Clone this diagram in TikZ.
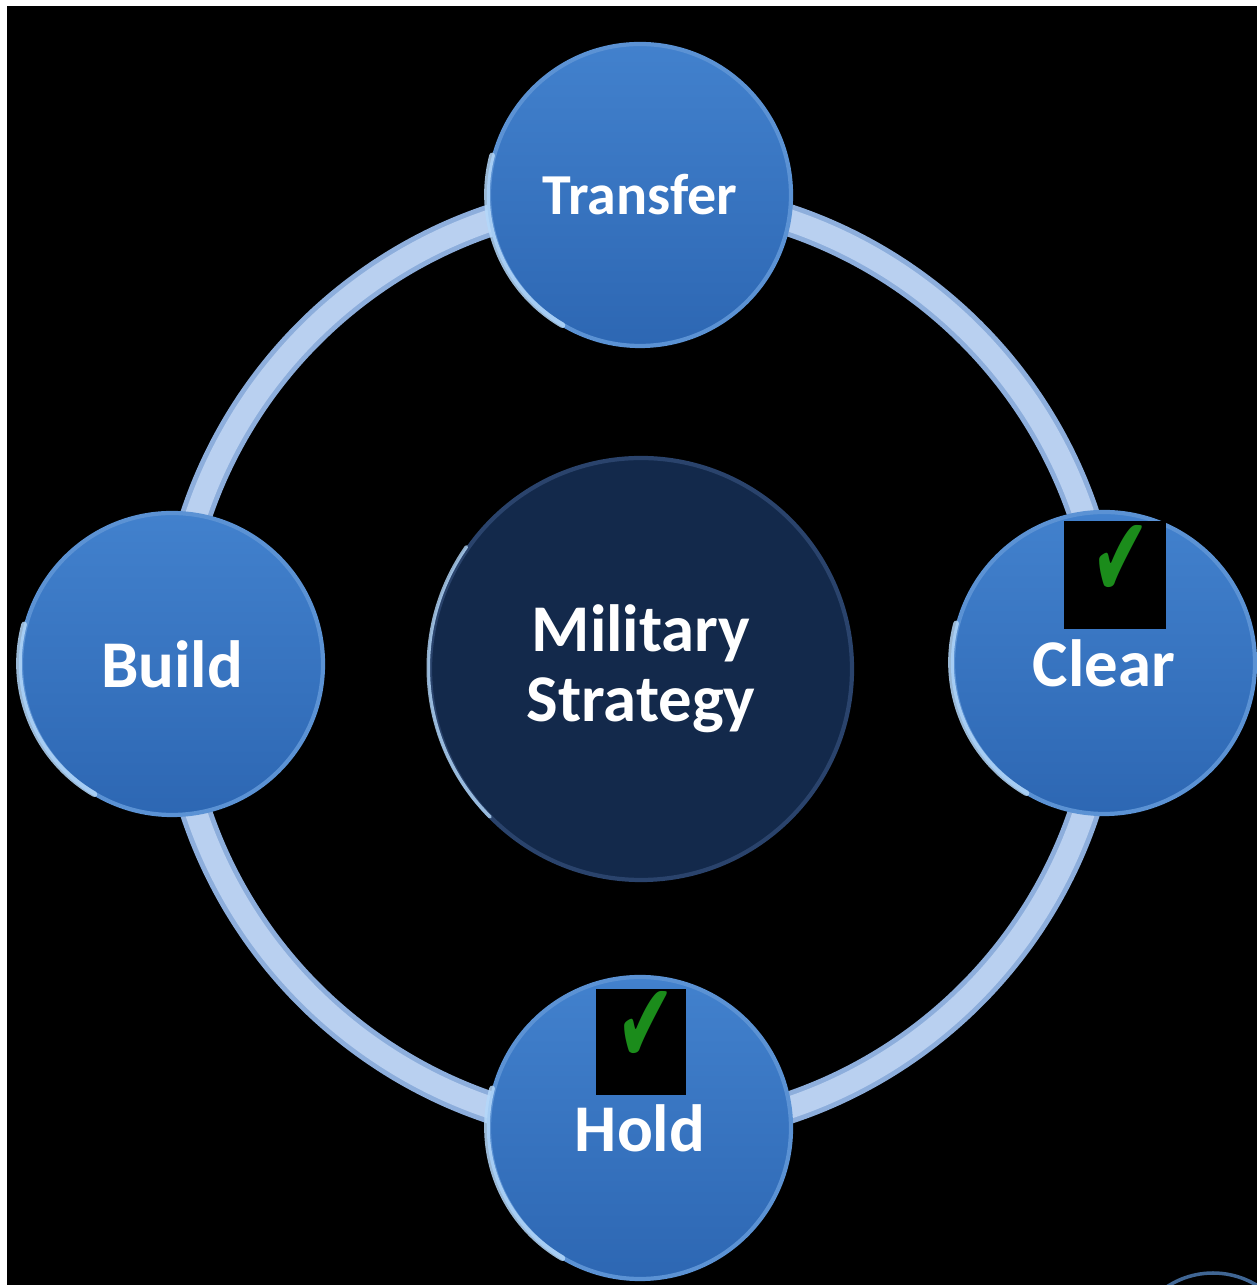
\documentclass[tikz,border=0pt]{standalone}
\usepackage{fontspec}
\setmainfont{Carlito}
\newfontfamily\marksfont{DejaVu Sans}
\usepackage{tikz}

\definecolor{stagetop}{HTML}{4281CD}
\definecolor{stagebot}{HTML}{2D67B3}
\definecolor{stagerim}{HTML}{5B92D4}
\definecolor{glint}{HTML}{B4D8FA}
\definecolor{hubfill}{HTML}{13294B}
\definecolor{hubrim}{HTML}{2A436C}
\definecolor{ringedge}{HTML}{8DAEDC}
\definecolor{ringmid}{HTML}{B9D0F0}
\definecolor{tickgreen}{HTML}{1B8C1B}

\newcommand{\okmark}{\scalebox{0.8}[1.3]{✔}}

\tikzset{
  stage/.style={circle, minimum size=3.02cm, inner sep=0pt,
    top color=stagetop, bottom color=stagebot, draw=stagerim, line width=1.2pt,
    text=white, font=\bfseries\fontsize{19}{20}\selectfont},
  hub/.style={circle, minimum size=4.22cm, inner sep=0pt,
    fill=hubfill, draw=hubrim, line width=1.2pt, align=center,
    text=white, font=\bfseries\fontsize{19}{19.9}\selectfont},
  shine/.style={glint, line width=1.6pt, line cap=round, opacity=0.85},
  tickbox/.style={fill=black, inner sep=0pt},
  tickmark/.style={text=tickgreen, inner sep=0pt, font=\marksfont\fontsize{25}{25}\selectfont}
}

\begin{document}
\begin{tikzpicture}
  \useasboundingbox (0,0) rectangle (12.57,12.85);
  \fill[white] (0,0) rectangle (12.57,12.85);
  \fill[black] (0.07,0) rectangle (12.57,12.79);
  \clip (0.07,0) rectangle (12.57,12.79);

  % ring behind the stages
  \coordinate (c) at (6.40,6.21);
  \draw[ringedge, line width=0.32cm] (c) circle[radius=4.68];
  \draw[ringmid, line width=0.22cm] (c) circle[radius=4.68];

  \node[hub] (hub) at (6.41,6.16) {Military\\Strategy};
  \draw[glint, line width=1pt, line cap=round, opacity=0.8] (hub.145) arc[start angle=145, end angle=225, radius=2.11];

  \node[stage, font=\bfseries\fontsize{16.5}{18}\selectfont] (transfer) at (6.40,10.90) {Transfer};
  \node[stage] (clear) at (11.04,6.22) {Clear};
  \node[stage] (hold) at (6.40,1.57) {Hold};
  \node[stage] (build) at (1.72,6.21) {Build};

  \foreach \s in {transfer,clear,hold,build}
    \draw[shine] (\s.165) arc[start angle=165, end angle=240, radius=1.51];

  \node[tickbox, minimum width=1.02cm, minimum height=1.08cm] (clearbox) at (11.15,7.10) {};
  \node[tickmark] (clearmark) at (11.21,7.24) {\okmark};
  \node[tickbox, minimum width=0.90cm, minimum height=1.06cm] (holdbox) at (6.41,2.43) {};
  \node[tickmark] (holdmark) at (6.46,2.58) {\okmark};

  \draw[stagerim!70!black, line width=1pt] (12.13,-0.72) circle[radius=0.84];
\end{tikzpicture}
\end{document}
